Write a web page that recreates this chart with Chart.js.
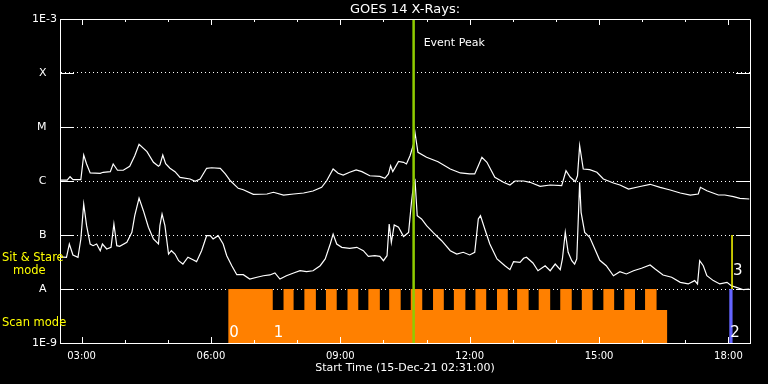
<!DOCTYPE html>
<html>
<head>
<meta charset="utf-8">
<title>GOES 14 X-Rays</title>
<script src="https://cdn.jsdelivr.net/npm/chart.js"></script>
<style>
  html, body { margin: 0; padding: 0; background: #000; }
  #wrap { width: 768px; height: 384px; }
</style>
</head>
<body>
<div id="wrap"><canvas id="chart"></canvas></div>
<script>
// GOES 1-8 A (long) channel
var longTimes = ['02:30','02:40','02:44','02:48','02:59','03:03','03:07','03:12','03:26','03:30','03:40','03:44','03:50','03:58',
  '04:07','04:14','04:20','04:31','04:40','04:47','04:49','04:53','04:57','05:03','05:10','05:17','05:31','05:38','05:45','05:54',
  '06:01','06:13','06:20','06:27','06:38','06:45','06:59','07:18','07:27','07:41','07:55','08:09','08:22','08:34','08:41','08:50',
  '08:57','09:04','09:13','09:22','09:30','09:41','09:55','10:02','10:07','10:10','10:13','10:21','10:28','10:32','10:37','10:42',
  '10:44','10:48','11:00','11:16','11:33','11:47','12:00','12:07','12:12','12:17','12:24','12:35','12:47','12:56','13:03','13:15',
  '13:24','13:38','13:52','14:08','14:14','14:20','14:27','14:30','14:33','14:38','14:47','14:57','15:06','15:20','15:29','15:41',
  '15:57','16:11','16:25','16:39','16:53','17:07','17:18','17:21','17:30','17:46','17:55','18:07','18:16','18:29'];
var longFlux = [1.04e-6,1.04e-6,1.20e-6,1.06e-6,1.06e-6,3.03e-6,2.07e-6,1.41e-6,1.39e-6,1.45e-6,1.49e-6,2.07e-6,1.58e-6,1.58e-6,
  1.87e-6,2.94e-6,4.79e-6,3.49e-6,2.22e-6,1.87e-6,1.98e-6,3.03e-6,2.09e-6,1.72e-6,1.49e-6,1.17e-6,1.09e-6,0.99e-6,1.09e-6,1.72e-6,
  1.76e-6,1.72e-6,1.35e-6,1.01e-6,7.32e-7,6.90e-7,5.67e-7,5.74e-7,6.18e-7,5.50e-7,5.74e-7,6.00e-7,6.53e-7,7.64e-7,1.01e-6,1.67e-6,
  1.39e-6,1.29e-6,1.45e-6,1.60e-6,1.49e-6,1.25e-6,1.22e-6,1.12e-6,1.35e-6,1.92e-6,1.49e-6,2.30e-6,2.22e-6,2.07e-6,2.94e-6,4.84e-6,
  7.74e-6,3.40e-6,2.75e-6,2.28e-6,1.67e-6,1.41e-6,1.35e-6,1.35e-6,1.92e-6,2.75e-6,2.22e-6,1.17e-6,9.46e-7,8.44e-7,1.00e-6,1.00e-6,
  9.46e-7,7.97e-7,8.44e-7,8.20e-7,1.55e-6,1.17e-6,9.70e-7,1.25e-6,4.51e-6,1.67e-6,1.62e-6,1.45e-6,1.09e-6,9.18e-7,8.44e-7,7.11e-7,
  7.90e-7,8.69e-7,7.64e-7,6.81e-7,6.00e-7,5.50e-7,5.74e-7,7.64e-7,6.61e-7,5.50e-7,5.50e-7,5.12e-7,4.78e-7,4.64e-7];

// GOES 0.5-4 A (short) channel
var shortTimes = ['02:30','02:39','02:43','02:48','02:55','02:59','03:03','03:07','03:12','03:16','03:21','03:26','03:29','03:35',
  '03:41','03:45','03:49','03:53','04:03','04:10','04:14','04:20','04:26','04:33','04:40','04:47','04:49','04:52','04:56','05:01',
  '05:05','05:10','05:15','05:21','05:28','05:35','05:40','05:47','05:54','05:59','06:03','06:10','06:17','06:22','06:29','06:36',
  '06:45','06:54','07:04','07:13','07:22','07:29','07:36','07:45','07:55','08:04','08:13','08:22','08:32','08:39','08:46','08:50',
  '08:55','09:02','09:13','09:23','09:32','09:39','09:48','09:55','10:00','10:05','10:08','10:11','10:15','10:21','10:28','10:35',
  '10:39','10:42','10:44','10:47','10:53','11:00','11:09','11:21','11:33','11:42','11:51','12:00','12:07','12:12','12:15','12:21',
  '12:28','12:38','12:49','12:56','13:01','13:10','13:15','13:19','13:28','13:35','13:45','13:52','13:59','14:06','14:09','14:13',
  '14:17','14:22','14:26','14:29','14:33','14:35','14:40','14:47','15:01','15:10','15:20','15:29','15:38','15:48','15:59','16:11',
  '16:18','16:29','16:41','16:53','17:04','17:13','17:17','17:20','17:25','17:30','17:39','17:48','17:58','18:04','18:11','18:21','18:29'];
var shortFlux = [3.92e-8,3.87e-8,6.81e-8,4.27e-8,3.87e-8,8.43e-8,3.75e-7,1.49e-7,6.81e-8,6.34e-8,6.81e-8,5.12e-8,6.81e-8,5.51e-8,
  5.91e-8,1.60e-7,6.34e-8,6.17e-8,7.32e-8,1.12e-7,2.28e-7,4.84e-7,2.82e-7,1.39e-7,8.43e-8,6.81e-8,1.49e-7,2.45e-7,1.49e-7,4.44e-8,
  5.12e-8,4.44e-8,3.34e-8,2.90e-8,3.87e-8,3.49e-8,3.21e-8,5.12e-8,9.71e-8,9.71e-8,8.43e-8,9.71e-8,6.81e-8,4.14e-8,2.70e-8,1.84e-8,
  1.84e-8,1.53e-8,1.65e-8,1.76e-8,1.82e-8,1.98e-8,1.53e-8,1.76e-8,1.98e-8,2.18e-8,2.09e-8,2.18e-8,2.70e-8,3.60e-8,6.81e-8,1.04e-7,
  6.81e-8,5.91e-8,5.67e-8,5.91e-8,5.12e-8,4.03e-8,4.14e-8,4.03e-8,3.34e-8,4.14e-8,1.60e-7,7.26e-8,1.53e-7,1.39e-7,9.38e-8,1.12e-7,
  4.04e-7,8.79e-7,1.01e-6,2.28e-7,1.98e-7,1.49e-7,1.12e-7,7.84e-8,5.12e-8,4.44e-8,4.79e-8,4.27e-8,4.79e-8,1.98e-7,2.28e-7,1.29e-7,
  6.81e-8,3.60e-8,2.70e-8,2.28e-8,3.21e-8,3.12e-8,3.71e-8,3.87e-8,3.03e-8,2.18e-8,2.70e-8,2.18e-8,2.90e-8,2.28e-8,3.60e-8,1.12e-7,
  4.79e-8,3.34e-8,2.90e-8,3.60e-8,9.46e-7,2.63e-7,1.12e-7,9.06e-8,3.40e-8,2.70e-8,1.76e-8,2.09e-8,1.90e-8,2.18e-8,2.42e-8,2.78e-8,
  2.34e-8,1.82e-8,1.65e-8,1.33e-8,1.24e-8,1.43e-8,1.24e-8,3.34e-8,2.70e-8,1.76e-8,1.43e-8,1.24e-8,1.33e-8,1.15e-8,1.07e-8,9.70e-9,1.00e-8];

// observing mode blocks (each level holds until the next time)
var modeTimes = ['06:24','07:26','07:41','07:55','08:10','08:26','08:40','08:55','09:10','09:25','09:39','09:55','10:08',
  '10:24','10:38','10:54','11:09','11:24','11:38','11:54','12:08','12:23','12:38','12:53','13:06','13:22','13:36','13:52',
  '14:06','14:22','14:36','14:51','15:06','15:21','15:35','15:50','16:04','16:20','16:35'];
var modeLevels = [1e-8,4.1e-9,1e-8,4.1e-9,1e-8,4.1e-9,1e-8,4.1e-9,1e-8,4.1e-9,1e-8,4.1e-9,1e-8,
  4.1e-9,1e-8,4.1e-9,1e-8,4.1e-9,1e-8,4.1e-9,1e-8,4.1e-9,1e-8,4.1e-9,1e-8,4.1e-9,1e-8,4.1e-9,
  1e-8,4.1e-9,1e-8,4.1e-9,1e-8,4.1e-9,1e-8,4.1e-9,1e-8,4.1e-9,4.1e-9];

var blueTimes = ['18:01','18:06'];
var blueLevels = [1e-8, 1e-8];
var yellowTime = '18:05';
var yellowRange = [1e-8, 1e-7];
var peakTime = '10:42';

var markTexts = ['0', '1', '2', '3'];
var markTimes = ['06:24', '07:26', '18:01', '18:05'];
var markFlux = [1.55e-9, 1.55e-9, 1.55e-9, 2.15e-8];

var yTickValues = [1e-3, 1e-4, 1e-5, 1e-6, 1e-7, 1e-8, 1e-9];
var yTickLabels = ['1E-3', 'X   ', 'M   ', 'C   ', 'B   ', 'A   ', '1E-9'];
var xLabelHours = [3, 6, 9, 12, 15, 18];
var xLabels = ['03:00', '06:00', '09:00', '12:00', '15:00', '18:00'];
var hourTicks = [3, 4, 5, 6, 7, 8, 9, 10, 11, 12, 13, 14, 15, 16, 17, 18];

var FONT = 'DejaVu Sans';

function hrs(t) {
    var p = t.split(':');
    return Number(p[0]) + Number(p[1]) / 60;
}

function toPoints(times, values) {
    return times.map(function(t, i) { return {x: hrs(t), y: values[i]}; });
}

// IDL style frame: box, inward ticks and the text labels
var idlFrame = {
    id: 'idlFrame',
    afterDatasetsDraw: function(chart) {
        var ctx = chart.ctx;
        var a = chart.chartArea;
        var xs = chart.scales.x;
        var ys = chart.scales.y;
        ctx.save();
        ctx.strokeStyle = '#fff';
        ctx.lineWidth = 1;
        ctx.beginPath();
        ctx.rect(a.left + 0.5, a.top + 0.5, a.right - a.left, a.bottom - a.top);
        hourTicks.forEach(function(h) {
            var px = Math.round(xs.getPixelForValue(h)) + 0.5;
            var len = (h % 3 === 0) ? 6 : 3;
            ctx.moveTo(px, a.bottom);
            ctx.lineTo(px, a.bottom - len);
            ctx.moveTo(px, a.top);
            ctx.lineTo(px, a.top + len);
        });
        yTickValues.slice(1, -1).forEach(function(v) {
            var py = Math.round(ys.getPixelForValue(v)) + 0.5;
            ctx.moveTo(a.left, py);
            ctx.lineTo(a.left + 14, py);
            ctx.moveTo(a.right - 14, py);
            ctx.lineTo(a.right, py);
        });
        ctx.stroke();

        ctx.textBaseline = 'middle';
        ctx.textAlign = 'left';
        ctx.fillStyle = '#fff';
        ctx.font = '11px "' + FONT + '"';
        ctx.fillText('Event Peak', xs.getPixelForValue(hrs(peakTime)) + 10, a.top + 24);

        ctx.font = '15px "' + FONT + '"';
        markTexts.forEach(function(txt, i) {
            ctx.fillText(txt, xs.getPixelForValue(hrs(markTimes[i])) + 1, ys.getPixelForValue(markFlux[i]));
        });

        ctx.fillStyle = '#ffff00';
        ctx.font = '11.5px "' + FONT + '"';
        var yA = ys.getPixelForValue(1e-8);
        ctx.fillText('Sit & Stare', 2, yA - 31);
        ctx.fillText('mode', 13, yA - 18);
        ctx.fillText('Scan mode', 2, yA + 34);
        ctx.restore();
    }
};

var ctx = document.getElementById('chart');

var myChart = new Chart(ctx, {
    type: 'line',
    data: {
        datasets: [
            {
                label: 'Event Peak',
                data: [{x: hrs(peakTime), y: 1e-9}, {x: hrs(peakTime), y: 1e-3}],
                borderColor: '#8fcc00',
                borderWidth: 2.5,
                pointRadius: 0,
                order: 1
            },
            {
                label: 'Marker 3',
                data: [{x: hrs(yellowTime), y: yellowRange[0]}, {x: hrs(yellowTime), y: yellowRange[1]}],
                borderColor: '#ffff00',
                borderWidth: 1.5,
                pointRadius: 0,
                order: 2
            },
            {
                label: '1-8 A',
                data: toPoints(longTimes, longFlux),
                borderColor: '#ffffff',
                borderWidth: 1.2,
                pointRadius: 0,
                tension: 0,
                order: 5
            },
            {
                label: '0.5-4 A',
                data: toPoints(shortTimes, shortFlux),
                borderColor: '#ffffff',
                borderWidth: 1.2,
                pointRadius: 0,
                tension: 0,
                order: 5
            },
            {
                label: 'Marker 2',
                data: toPoints(blueTimes, blueLevels),
                stepped: true,
                fill: 'start',
                backgroundColor: '#6464ff',
                borderWidth: 0,
                pointRadius: 0,
                order: 9
            },
            {
                label: 'Mode',
                data: toPoints(modeTimes, modeLevels),
                stepped: true,
                fill: 'start',
                backgroundColor: '#ff8000',
                borderWidth: 0,
                pointRadius: 0,
                order: 10
            }
        ]
    },
    options: {
        responsive: true,
        maintainAspectRatio: false,
        animation: false,
        events: [],
        layout: { padding: { left: 0, right: 18, top: 0, bottom: 0 } },
        plugins: {
            legend: { display: false },
            tooltip: { enabled: false },
            title: {
                display: true,
                text: 'GOES 14 X-Rays:',
                color: '#fff',
                fullSize: false,
                font: { family: FONT, size: 13, weight: 'normal', lineHeight: 1.2 },
                padding: { top: 2, bottom: 1.4 }
            }
        },
        scales: {
            x: {
                type: 'linear',
                min: 2.5,
                max: 18.5,
                afterFit: function(scale) { scale.height = 41; },
                afterBuildTicks: function(scale) {
                    scale.ticks = xLabelHours.map(function(v) { return {value: v}; });
                },
                grid: { display: false, drawTicks: false },
                border: { color: '#fff' },
                ticks: {
                    color: '#fff',
                    autoSkip: false,
                    maxRotation: 0,
                    padding: 7,
                    font: { family: FONT, size: 10 },
                    callback: function(v, i) { return xLabels[i]; }
                },
                title: {
                    display: true,
                    text: 'Start Time (15-Dec-21 02:31:00)',
                    color: '#fff',
                    font: { family: FONT, size: 11 },
                    padding: { top: 0, bottom: 9.4 }
                }
            },
            y: {
                type: 'logarithmic',
                min: 1e-9,
                max: 1e-3,
                afterFit: function(scale) { scale.width = 60; },
                afterBuildTicks: function(scale) {
                    scale.ticks = yTickValues.map(function(v) { return {value: v}; });
                },
                grid: { color: '#fff', lineWidth: 1, drawTicks: false },
                border: { color: '#fff', dash: [1, 3] },
                ticks: {
                    color: '#fff',
                    autoSkip: false,
                    padding: 3,
                    font: { family: FONT, size: 11 },
                    callback: function(v, i) { return yTickLabels[i]; }
                }
            }
        }
    },
    plugins: [idlFrame]
});
</script>
</body>
</html>
